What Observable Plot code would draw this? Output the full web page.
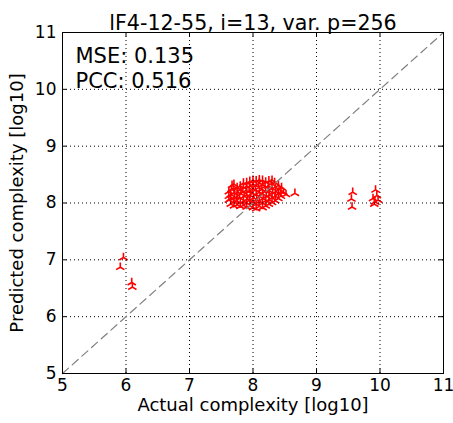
<!DOCTYPE html>
<html>
<head>
<meta charset="utf-8">
<script src="https://cdn.jsdelivr.net/npm/d3@7"></script>
<script src="https://cdn.jsdelivr.net/npm/@observablehq/plot@0.6"></script>
<style>
  html, body { margin: 0; padding: 0; background: white; }
  svg { display: block; }
</style>
</head>
<body>
<div id="chart"></div>
<script>
const title = "lF4-12-55, i=13, var. p=256";
const xLabel = "Actual complexity [log10]";
const yLabel = "Predicted complexity [log10]";
const statLines = ["MSE: 0.135", "PCC: 0.516"];
const xTicks = [5, 6, 7, 8, 9, 10, 11];
const yTicks = [5, 6, 7, 8, 9, 10, 11];
const diagonal = [5, 11];

// main cluster (column by column)
const clusterX = [
  7.62, 7.62, 7.62,
  7.65, 7.65, 7.65, 7.66, 7.67,
  7.70, 7.70, 7.71, 7.70, 7.69, 7.70,
  7.75, 7.74, 7.75, 7.76, 7.75,
  7.80, 7.80, 7.79, 7.81, 7.80, 7.80,
  7.85, 7.85, 7.86, 7.84, 7.85, 7.85,
  7.90, 7.90, 7.91, 7.90, 7.89, 7.90, 7.90,
  7.95, 7.95, 7.96, 7.94, 7.95, 7.95,
  8.00, 8.00, 8.01, 7.99, 8.00, 8.00, 8.00,
  8.05, 8.05, 8.06, 8.05, 8.04, 8.05, 8.05,
  8.10, 8.10, 8.11, 8.10, 8.09, 8.10, 8.10,
  8.15, 8.15, 8.16, 8.15, 8.14, 8.15, 8.15,
  8.20, 8.20, 8.21, 8.20, 8.19, 8.20,
  8.25, 8.25, 8.26, 8.25, 8.24, 8.25,
  8.30, 8.30, 8.31, 8.30, 8.29, 8.30,
  8.35, 8.35, 8.36, 8.35, 8.34,
  8.40, 8.40, 8.41, 8.40,
  8.44, 8.44, 8.45,
  8.48, 8.52
];
const clusterY = [
  8.05, 8.12, 8.20,
  7.98, 8.08, 8.15, 8.24, 8.31,
  7.95, 8.02, 8.10, 8.18, 8.26, 8.33,
  7.97, 8.04, 8.11, 8.19, 8.27,
  7.94, 8.01, 8.09, 8.16, 8.23, 8.30,
  7.96, 8.03, 8.12, 8.20, 8.28, 8.35,
  7.93, 8.00, 8.07, 8.14, 8.22, 8.29, 8.36,
  7.95, 8.05, 8.13, 8.21, 8.30, 8.38,
  7.92, 8.02, 8.09, 8.17, 8.25, 8.33, 8.40,
  7.90, 7.98, 8.06, 8.15, 8.23, 8.31, 8.39,
  7.94, 8.03, 8.11, 8.19, 8.27, 8.35, 8.41,
  7.92, 8.00, 8.08, 8.16, 8.24, 8.32, 8.40,
  7.95, 8.04, 8.12, 8.21, 8.29, 8.37,
  7.98, 8.06, 8.14, 8.22, 8.30, 8.39,
  8.01, 8.09, 8.18, 8.26, 8.34, 8.40,
  8.04, 8.12, 8.20, 8.28, 8.36,
  8.08, 8.16, 8.24, 8.31,
  8.12, 8.20, 8.27,
  8.19, 8.15
];
// outlying points
const outlierX = [8.66, 9.57, 9.55, 9.56, 9.93, 9.95, 9.89, 9.92, 9.97, 9.91, 5.96, 5.91, 6.09, 6.10];
const outlierY = [8.17, 8.19, 8.07, 7.93, 8.23, 8.13, 8.08, 8.02, 8.05, 7.98, 7.04, 6.87, 6.60, 6.52];

const points = [
  ...clusterX.map((x, i) => ({x, y: clusterY[i]})),
  ...outlierX.map((x, i) => ({x, y: outlierY[i]}))
];

// matplotlib "tri_up" marker
const triUp = {
  draw(ctx, size) {
    const r = Math.sqrt(size / Math.PI);
    ctx.moveTo(0, 0); ctx.lineTo(0, -r);
    ctx.moveTo(0, 0); ctx.lineTo(-0.866 * r, 0.5 * r);
    ctx.moveTo(0, 0); ctx.lineTo(0.866 * r, 0.5 * r);
  }
};

const font = "DejaVu Sans";
const inner = (t) => t.slice(1, -1);

const chart = Plot.plot({
  width: 453,
  height: 423,
  marginLeft: 62,
  marginRight: 10,
  marginTop: 32,
  marginBottom: 50,
  style: {fontFamily: font, background: "white", overflow: "visible"},
  x: {domain: [5, 11]},
  y: {domain: [5, 11]},
  marks: [
    Plot.dot(points, {x: "x", y: "y", symbol: triUp, r: 4.8, stroke: "red", strokeWidth: 1.6, fill: "none"}),
    Plot.gridX(inner(xTicks), {stroke: "black", strokeOpacity: 1, strokeWidth: 1, strokeDasharray: "1,3"}),
    Plot.gridY(inner(yTicks), {stroke: "black", strokeOpacity: 1, strokeWidth: 1, strokeDasharray: "1,3"}),
    Plot.line(diagonal.map(v => ({x: v, y: v})), {x: "x", y: "y", stroke: "#808080", strokeWidth: 1.2, strokeDasharray: "8,5"}),
    // inward ticks on all four sides
    Plot.ruleX(inner(xTicks), {y1: 5, y2: 5.08, stroke: "black"}),
    Plot.ruleX(inner(xTicks), {y1: 10.92, y2: 11, stroke: "black"}),
    Plot.ruleY(inner(yTicks), {x1: 5, x2: 5.07, stroke: "black"}),
    Plot.ruleY(inner(yTicks), {x1: 10.93, x2: 11, stroke: "black"}),
    Plot.frame({stroke: "black", strokeWidth: 1}),
    Plot.axisX(xTicks, {tickSize: 0, tickPadding: 5, fontSize: 17, label: null, fill: "black", tickFormat: d => String(d)}),
    Plot.axisY(yTicks, {tickSize: 0, tickPadding: 6, fontSize: 17, label: null, fill: "black", tickFormat: d => String(d)}),
    Plot.text([title], {frameAnchor: "top", dy: -17, fontSize: 20.6, fill: "black"}),
    Plot.text([xLabel], {frameAnchor: "bottom", dy: 37, fontSize: 18, fill: "black"}),
    Plot.text([yLabel], {frameAnchor: "left", dx: -45, rotate: -90, textAnchor: "middle", fontSize: 18, fill: "black"}),
    Plot.text([statLines.join("\n")], {frameAnchor: "top-left", dx: 13, dy: 13, lineHeight: 1.19, fontSize: 21, textAnchor: "start", lineAnchor: "top", fill: "black"})
  ]
});
document.getElementById("chart").appendChild(chart);
</script>
</body>
</html>
